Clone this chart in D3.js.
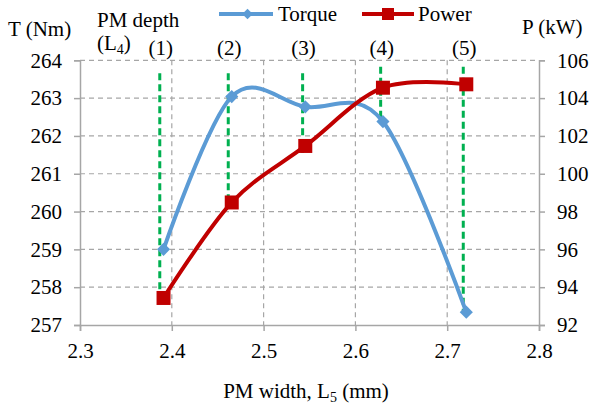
<!DOCTYPE html>
<html>
<head>
<meta charset="utf-8">
<script src="https://cdn.jsdelivr.net/npm/d3@7"></script>
<style>
  body { margin: 0; background: #fff; }
  svg { display: block; }
</style>
</head>
<body>
<svg id="chart" width="591" height="408"></svg>
<script>
// PM width L5 (mm) for each design point
const pmWidth = [2.391, 2.4653, 2.5454, 2.630, 2.7208];
// Torque T (Nm)
const torque = [259.0, 263.04, 262.77, 262.38, 257.34];
// Power P (kW)
const power = [93.43, 98.48, 101.47, 104.55, 104.73];
// PM depth L4 markers (1)..(5): guide position, top and bottom (torque units)
const depthLabels = ["(1)", "(2)", "(3)", "(4)", "(5)"];
const depthX = [2.3869, 2.4615, 2.5425, 2.6275, 2.7175];
const depthTop = [263.66, 263.66, 263.66, 263.83, 263.83];
const depthBottom = [257.65, 260.2, 261.55, 262.38, 257.34];

const xTicks = [2.3, 2.4, 2.5, 2.6, 2.7, 2.8];
const tTicks = [257, 258, 259, 260, 261, 262, 263, 264];
const pTicks = [92, 94, 96, 98, 100, 102, 104, 106];

const FONT = "'Liberation Serif', 'Times New Roman', 'DejaVu Serif', serif";
const fs = 21, subFs = 14;

const svg = d3.select("#chart")
  .attr("font-family", FONT).attr("font-size", fs);
const L = 80, R = 539, T = 60.3, B = 325;

const x = d3.scaleLinear().domain([2.3, 2.8]).range([L, R]);
const yT = d3.scaleLinear().domain([257, 264]).range([B, T]);
const yP = d3.scaleLinear().domain([92, 106]).range([B, T]);

const gridColor = "#a6a6a6";

// Grid
const grid = svg.append("g");
grid.selectAll("line.h").data(tTicks.slice(1)).join("line")
  .attr("x1", L).attr("x2", R)
  .attr("y1", d => yT(d)).attr("y2", d => yT(d))
  .attr("stroke", gridColor).attr("stroke-width", 1.2).attr("stroke-dasharray", "5,4");
grid.selectAll("line.v").data(xTicks.slice(1, -1)).join("line")
  .attr("x1", d => x(d)).attr("x2", d => x(d))
  .attr("y1", T).attr("y2", B)
  .attr("stroke", gridColor).attr("stroke-width", 1.2).attr("stroke-dasharray", "5,4");

// Axes
const axisStyle = g => {
  g.attr("font-family", FONT).attr("font-size", fs);
  g.select(".domain").attr("stroke", gridColor).attr("stroke-width", 1.5);
  g.selectAll(".tick line").attr("stroke", gridColor).attr("stroke-width", 1.5);
  g.selectAll(".tick text").attr("fill", "#000");
};
svg.append("g").attr("transform", `translate(0,${B})`)
  .call(d3.axisBottom(x).tickValues(xTicks).tickFormat(d3.format(".1f")).tickSizeOuter(0).tickSize(6).tickPadding(12))
  .call(axisStyle);
svg.append("g").attr("transform", `translate(${L},0)`)
  .call(d3.axisLeft(yT).tickValues(tTicks).tickFormat(d3.format("d")).tickSizeOuter(0).tickSize(6).tickPadding(12))
  .call(axisStyle);
svg.append("g").attr("transform", `translate(${R},0)`)
  .call(d3.axisRight(yP).tickValues(pTicks).tickFormat(d3.format("d")).tickSizeOuter(0).tickSize(6).tickPadding(12))
  .call(axisStyle);

// PM depth guides
const guides = svg.append("g");
depthX.forEach((dx, i) => {
  guides.append("line")
    .attr("x1", x(dx)).attr("x2", x(dx))
    .attr("y1", yT(depthTop[i])).attr("y2", yT(depthBottom[i]))
    .attr("stroke", "#00b050").attr("stroke-width", 3).attr("stroke-dasharray", "7,4");
  svg.append("text").attr("x", x(dx) + 1).attr("y", 55)
    .attr("text-anchor", "middle").text(depthLabels[i]);
});

// Series lines
const curve = d3.curveCatmullRom.alpha(0);
const tData = pmWidth.map((d, i) => [x(d), yT(torque[i])]);
const pData = pmWidth.map((d, i) => [x(d), yP(power[i])]);
svg.append("path").attr("d", d3.line().curve(curve)(tData))
  .attr("fill", "none").attr("stroke", "#5b9bd5").attr("stroke-width", 4);
svg.append("path").attr("d", d3.line().curve(curve)(pData))
  .attr("fill", "none").attr("stroke", "#c00000").attr("stroke-width", 4);

// Markers
const diamond = d3.symbol().type(d3.symbolDiamond2).size(110);
svg.append("g").selectAll("path").data(tData).join("path")
  .attr("d", diamond).attr("transform", d => `translate(${d[0]},${d[1]})`)
  .attr("fill", "#5b9bd5");
svg.append("g").selectAll("rect").data(pData).join("rect")
  .attr("x", d => d[0] - 7).attr("y", d => d[1] - 7)
  .attr("width", 14).attr("height", 14).attr("fill", "#c00000");

// Legend
const lg = svg.append("g");
lg.append("line").attr("x1", 219).attr("x2", 273).attr("y1", 14).attr("y2", 14)
  .attr("stroke", "#5b9bd5").attr("stroke-width", 4);
lg.append("path").attr("d", d3.symbol().type(d3.symbolDiamond2).size(70))
  .attr("transform", "translate(247.5,14)").attr("fill", "#5b9bd5");
lg.append("text").attr("x", 278).attr("y", 21).text("Torque");
lg.append("line").attr("x1", 362).attr("x2", 414).attr("y1", 14).attr("y2", 14)
  .attr("stroke", "#c00000").attr("stroke-width", 4);
lg.append("rect").attr("x", 382).attr("y", 8).attr("width", 12).attr("height", 12).attr("fill", "#c00000");
lg.append("text").attr("x", 418).attr("y", 21).text("Power");

// Axis titles
svg.append("text").attr("x", 8).attr("y", 36).text("T (Nm)");
svg.append("text").attr("x", 522).attr("y", 34).text("P (kW)");
svg.append("text").attr("x", 97).attr("y", 27).text("PM depth");
const l4 = svg.append("text").attr("x", 97).attr("y", 50);
l4.append("tspan").text("(L");
l4.append("tspan").attr("dy", 4).attr("font-size", subFs).text("4");
l4.append("tspan").attr("dy", -4).text(")");
const xt = svg.append("text").attr("x", 306).attr("y", 398).attr("text-anchor", "middle");
xt.append("tspan").text("PM width, L");
xt.append("tspan").attr("dy", 4).attr("font-size", subFs).text("5");
xt.append("tspan").attr("dy", -4).text(" (mm)");
</script>
</body>
</html>
